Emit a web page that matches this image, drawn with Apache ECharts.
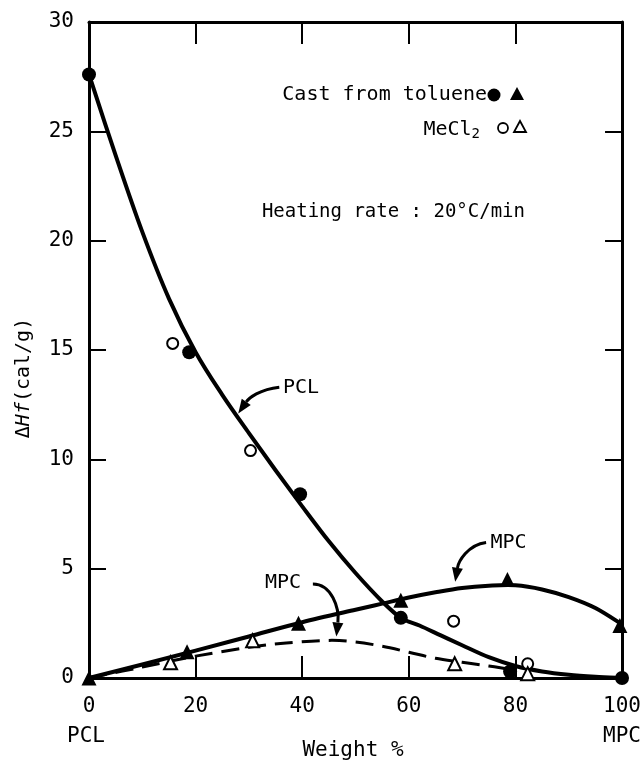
<!DOCTYPE html>
<html><head><meta charset="utf-8">
<script src="https://cdn.jsdelivr.net/npm/echarts@6/dist/echarts.min.js"></script>
<style>html,body{margin:0;padding:0;background:#fff}#c{width:644px;height:764px}</style>
</head><body><div id="c"></div>
<script>
// ---- data ----
const xTicks = [0, 20, 40, 60, 80, 100];
const yTicks = [0, 5, 10, 15, 20, 25, 30];
// measured points
const pclToluene = [[0, 27.6], [18.8, 14.9], [39.6, 8.4], [58.5, 2.75], [79, 0.3], [100, 0]];
const pclMeCl2 = [[15.7, 15.3], [30.3, 10.4], [68.4, 2.6], [82.3, 0.65]];
const mpcToluene = [[0, 0], [18.4, 1.2], [39.3, 2.5], [58.5, 3.55], [78.5, 4.5], [99.6, 2.4]];
const mpcMeCl2 = [[15.3, 0.7], [30.7, 1.7], [68.6, 0.65], [82.3, 0.2]];
// hand-drawn fitted curves
const pclCurve = [[0, 27.6], [5, 23.9], [10, 20.4], [15, 17.35], [20, 14.9], [25, 12.95], [30, 11.2], [35, 9.5], [40, 7.85], [45, 6.25], [50, 4.8], [55, 3.5], [58.5, 2.75], [62, 2.4], [66, 1.95], [70, 1.5], [75, 0.95], [80, 0.55], [85, 0.3], [90, 0.15], [95, 0.06], [100, 0]];
const mpcCurve = [[0, 0], [10, 0.62], [20, 1.25], [30, 1.9], [40, 2.55], [50, 3.12], [55, 3.4], [60, 3.68], [65, 3.92], [70, 4.12], [75, 4.22], [80, 4.24], [85, 4.05], [90, 3.7], [95, 3.2], [100, 2.45]];
const mpcDashCurve = [[0, 0], [10, 0.5], [20, 1.0], [30, 1.4], [37, 1.6], [45, 1.72], [50, 1.65], [55, 1.45], [60, 1.18], [65, 0.9], [70, 0.72], [75, 0.55], [79, 0.4]];

const FONT = '"DejaVu Sans Mono", "Liberation Mono", monospace';
const chart = echarts.init(document.getElementById('c'));
const axisLine = {show: true, onZero: false, lineStyle: {color: '#000', width: 3}};
const tickStyle = {color: '#000', width: 2};

// smooth curve drawn through the axes' coordinate system (Catmull-Rom)
function curveSeries(arr, width, dash) {
  return {
    type: 'custom', data: arr, clip: false, z: 2,
    renderItem: function (params, api) {
      if (params.dataIndex !== 0) return null;
      const pts = arr.map(p => api.coord(p));
      const n = pts.length;
      let d = 'M' + pts[0][0].toFixed(2) + ' ' + pts[0][1].toFixed(2);
      for (let i = 0; i < n - 1; i++) {
        const p0 = pts[Math.max(i - 1, 0)], p1 = pts[i], p2 = pts[i + 1], p3 = pts[Math.min(i + 2, n - 1)];
        const c1 = [p1[0] + (p2[0] - p0[0]) / 6, p1[1] + (p2[1] - p0[1]) / 6];
        const c2 = [p2[0] - (p3[0] - p1[0]) / 6, p2[1] - (p3[1] - p1[1]) / 6];
        d += ' C' + c1[0].toFixed(2) + ' ' + c1[1].toFixed(2) + ' ' + c2[0].toFixed(2) + ' ' + c2[1].toFixed(2) + ' ' + p2[0].toFixed(2) + ' ' + p2[1].toFixed(2);
      }
      return {type: 'path', shape: {pathData: d}, style: {fill: 'none', stroke: '#000', lineWidth: width, lineDash: dash || null, lineCap: 'butt', lineJoin: 'round'}};
    }
  };
}

const option = {
  animation: false,
  backgroundColor: '#fff',
  grid: {left: 89, right: 14, top: 22, bottom: 86},
  xAxis: [
    {type: 'value', min: 0, max: 100, interval: 20, position: 'bottom',
     axisLine: axisLine, splitLine: {show: false},
     axisTick: {show: true, inside: true, length: 22, lineStyle: tickStyle},
     axisLabel: {color: '#000', fontFamily: FONT, fontSize: 21, margin: 18,
       formatter: v => xTicks.includes(v) ? String(v) : ''}},
    {type: 'value', min: 0, max: 100, interval: 20, position: 'top',
     axisLine: axisLine, splitLine: {show: false},
     axisTick: {show: true, inside: true, length: 22, lineStyle: tickStyle},
     axisLabel: {show: false}}
  ],
  yAxis: [
    {type: 'value', min: 0, max: 30, interval: 5, position: 'left',
     axisLine: axisLine, splitLine: {show: false},
     axisTick: {show: true, inside: true, length: 17, lineStyle: tickStyle},
     axisLabel: {color: '#000', fontFamily: FONT, fontSize: 21, margin: 15,
       formatter: v => yTicks.includes(v) ? String(v) : ''}},
    {type: 'value', min: 0, max: 30, interval: 5, position: 'right',
     axisLine: axisLine, splitLine: {show: false},
     axisTick: {show: true, inside: true, length: 17, lineStyle: tickStyle},
     axisLabel: {show: false}}
  ],
  series: [
    curveSeries(pclCurve, 4),
    curveSeries(mpcCurve, 4),
    curveSeries(mpcDashCurve, 3, [18, 9]),
    {type: 'scatter', data: pclToluene, symbol: 'circle', symbolSize: 14, itemStyle: {color: '#000', opacity: 1}, z: 3},
    {type: 'scatter', data: pclMeCl2, symbol: 'circle', symbolSize: 11, itemStyle: {color: '#fff', borderColor: '#000', borderWidth: 2, opacity: 1}, z: 3},
    {type: 'scatter', data: mpcToluene, symbol: 'triangle', symbolSize: 15, itemStyle: {color: '#000', opacity: 1}, z: 3},
    {type: 'scatter', data: mpcMeCl2, symbol: 'triangle', symbolSize: 13, itemStyle: {color: '#fff', borderColor: '#000', borderWidth: 2, opacity: 1}, z: 3}
  ]
};
chart.setOption(option);

function P(x, y) { return chart.convertToPixel({xAxisIndex: 0, yAxisIndex: 0}, [x, y]); }
function arrow(start, c1, c2, end) {
  const s = P(...start), a = P(...c1), b = P(...c2), e = P(...end);
  const dx = e[0] - b[0], dy = e[1] - b[1], L = Math.hypot(dx, dy);
  const ux = dx / L, uy = dy / L, hl = 14, hw = 5.5;
  const base = [e[0] - ux * hl, e[1] - uy * hl];
  return [
    {type: 'bezierCurve', shape: {x1: s[0], y1: s[1], cpx1: a[0], cpy1: a[1], cpx2: b[0], cpy2: b[1], x2: base[0], y2: base[1]},
     style: {stroke: '#000', lineWidth: 3, fill: null}, z: 10},
    {type: 'polygon', shape: {points: [e, [base[0] - uy * hw, base[1] + ux * hw], [base[0] + uy * hw, base[1] - ux * hw]]},
     style: {fill: '#000'}, z: 10}
  ];
}
function txt(x, y, text, extra) {
  return Object.assign({type: 'text', x: x, y: y, style: Object.assign({text: text, fill: '#000', font: '20px ' + FONT, textVerticalAlign: 'middle'}, extra || {}), z: 10});
}
const g = [];
// annotation labels in data space
const pPCL = P(36.4, 13.26), pMPC1 = P(75.3, 6.2), pMPC2 = P(33.0, 4.35);
g.push(txt(pPCL[0], pPCL[1], 'PCL'));
g.push(txt(pMPC1[0], pMPC1[1], 'MPC'));
g.push(txt(pMPC2[0], pMPC2[1], 'MPC'));
g.push(...arrow([35.7, 13.3], [32, 13.2], [30, 12.8], [28, 12.1]));
g.push(...arrow([74.5, 6.2], [71, 6.1], [69.3, 5.3], [68.7, 4.4]));
g.push(...arrow([42.0, 4.3], [45.5, 4.3], [47, 3.2], [46.4, 1.9]));
// legend block
g.push(txt(487, 95, 'Cast from toluene', {textAlign: 'right'}));
g.push({type: 'circle', shape: {cx: 494, cy: 95, r: 6.5}, style: {fill: '#000'}, z: 10});
g.push({type: 'polygon', shape: {points: [[517, 87], [510, 100], [524, 100]]}, style: {fill: '#000'}, z: 10});
g.push({type: 'text', x: 480, y: 130, style: {rich: {n: {fontSize: 20, fontFamily: FONT, fill: '#000'}, s: {fontSize: 14, fontFamily: FONT, fill: '#000', padding: [8, 0, 0, 0]}}, text: '{n|MeCl}{s|2}', textAlign: 'right', textVerticalAlign: 'middle'}, z: 10});
g.push({type: 'circle', shape: {cx: 503, cy: 128, r: 5}, style: {fill: '#fff', stroke: '#000', lineWidth: 1.8}, z: 10});
g.push({type: 'polygon', shape: {points: [[520, 121], [514, 132], [526, 132]]}, style: {fill: '#fff', stroke: '#000', lineWidth: 1.8}, z: 10});
g.push(txt(525, 212, 'Heating rate : 20°C/min', {textAlign: 'right', font: '19px ' + FONT}));
// axis captions
g.push(txt(86, 737, 'PCL', {textAlign: 'center', font: '21px ' + FONT}));
g.push(txt(622, 737, 'MPC', {textAlign: 'center', font: '21px ' + FONT}));
g.push(txt(353, 751, 'Weight %', {textAlign: 'center', font: '21px ' + FONT}));
g.push({type: 'text', x: 24, y: 378, rotation: Math.PI / 2,
  style: {rich: {a: {fontSize: 20, fontFamily: FONT, fill: '#000'}, i: {fontSize: 20, fontFamily: FONT, fontStyle: 'italic', fill: '#000'}},
    text: '{a|Δ}{i|Hf}{a|(cal/g)}', textAlign: 'center', textVerticalAlign: 'middle'}, z: 10});
chart.setOption({graphic: g});
</script></body></html>
